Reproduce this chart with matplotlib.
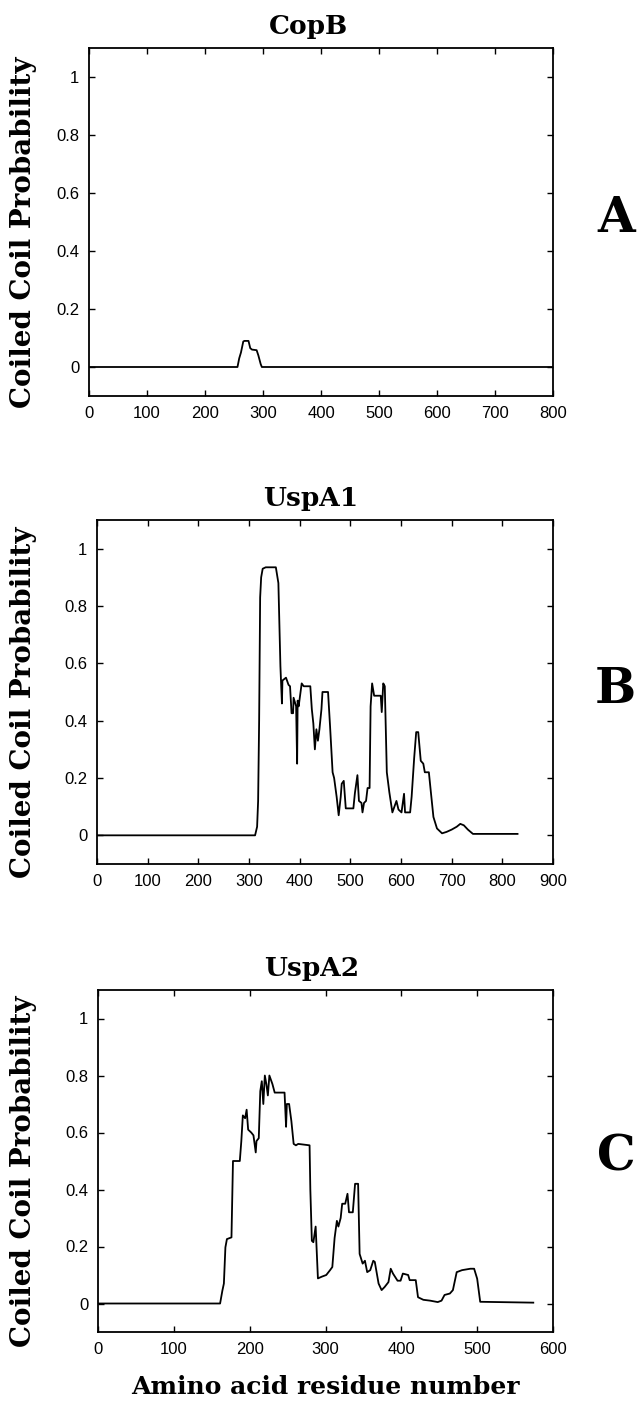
import matplotlib
matplotlib.use("Agg")
import matplotlib.pyplot as plt

# Coiled coil probability profiles
copb_res = [0, 256, 259, 262, 266, 268, 275, 278, 281, 289, 292, 296, 298, 800]
copb_prob = [0, 0, 0.03, 0.05, 0.088, 0.09, 0.09, 0.065, 0.06, 0.058, 0.04, 0.01, 0, 0]

uspa1_res = [0, 312, 316, 318, 320, 322, 324, 327, 333, 353, 358, 362, 365, 366, 373, 378,
             381, 384, 387, 388, 393, 395, 396, 398, 404, 408, 421, 424, 427, 430, 433, 436,
             439, 443, 445, 456, 460, 465, 468, 473, 477, 481, 483, 487, 491, 506, 509, 514,
             517, 522, 524, 527, 531, 534, 538, 540, 543, 547, 560, 562, 565, 568, 572, 577,
             583, 591, 595, 601, 606, 608, 618, 621, 626, 630, 634, 639, 644, 647, 655, 659,
             664, 671, 681, 690, 700, 710, 717, 724, 732, 742, 830]
uspa1_prob = [0, 0, 0.03, 0.12, 0.40, 0.83, 0.90, 0.93, 0.935, 0.935, 0.88, 0.59, 0.46, 0.54, 0.55, 0.525,
              0.52, 0.426, 0.426, 0.48, 0.45, 0.25, 0.47, 0.45, 0.53, 0.52, 0.52, 0.44, 0.39, 0.30, 0.37, 0.33,
              0.37, 0.44, 0.50, 0.50, 0.38, 0.22, 0.20, 0.134, 0.07, 0.134, 0.18, 0.19, 0.094, 0.094, 0.147, 0.21,
              0.12, 0.113, 0.08, 0.113, 0.12, 0.165, 0.165, 0.45, 0.53, 0.487, 0.487, 0.43, 0.53, 0.52, 0.22, 0.15,
              0.08, 0.12, 0.09, 0.08, 0.145, 0.08, 0.08, 0.135, 0.27, 0.36, 0.36, 0.26, 0.25, 0.22, 0.22, 0.15,
              0.064, 0.024, 0.007, 0.012, 0.02, 0.03, 0.04, 0.035, 0.02, 0.005, 0.005]

uspa2_res = [0, 161, 164, 166, 168, 170, 176, 178, 181, 187, 189, 191, 194, 196, 198, 202,
             205, 208, 209, 212, 214, 216, 218, 220, 222, 224, 226, 230, 233, 246, 248, 249,
             252, 255, 258, 261, 264, 279, 280, 282, 284, 287, 290, 295, 301, 306, 309, 312,
             315, 317, 320, 322, 326, 329, 331, 336, 339, 343, 345, 349, 352, 355, 359, 363,
             365, 370, 374, 378, 383, 386, 389, 395, 399, 402, 409, 411, 419, 422, 429, 438,
             448, 453, 457, 464, 468, 473, 480, 491, 496, 500, 504, 574]
uspa2_prob = [0, 0, 0.045, 0.07, 0.197, 0.226, 0.232, 0.50, 0.50, 0.50, 0.57, 0.66, 0.65, 0.68, 0.61, 0.60,
              0.59, 0.53, 0.57, 0.58, 0.745, 0.78, 0.70, 0.80, 0.77, 0.73, 0.80, 0.77, 0.74, 0.74, 0.62, 0.70,
              0.70, 0.64, 0.56, 0.555, 0.56, 0.555, 0.40, 0.22, 0.215, 0.27, 0.088, 0.094, 0.10, 0.117, 0.128, 0.23,
              0.29, 0.27, 0.30, 0.35, 0.35, 0.385, 0.32, 0.32, 0.42, 0.42, 0.174, 0.14, 0.15, 0.11, 0.117, 0.15,
              0.146, 0.07, 0.047, 0.058, 0.075, 0.122, 0.105, 0.08, 0.08, 0.105, 0.10, 0.082, 0.082, 0.022, 0.013, 0.01,
              0.005, 0.01, 0.03, 0.035, 0.047, 0.11, 0.117, 0.122, 0.122, 0.087, 0.006, 0.003]

panel_names = ["CopB", "UspA1", "UspA2"]
panel_letters = ["A", "B", "C"]
x_max = [800, 900, 600]
y_ticks = [0, 0.2, 0.4, 0.6, 0.8, 1]
y_tick_labels = ["0", "0.2", "0.4", "0.6", "0.8", "1"]

series = [(copb_res, copb_prob), (uspa1_res, uspa1_prob), (uspa2_res, uspa2_prob)]

# pixel layout of the original figure (639 x 1401)
W, H = 639, 1401
boxes = [(89, 48, 553, 396), (97, 520, 553, 864), (98, 990, 553, 1332)]
title_x = [0.472, 0.469, 0.47]
letter_pos = [(616, 219), (615, 690), (616, 1157)]

serif = ["DejaVu Serif"]
sans = ["Liberation Sans", "DejaVu Sans"]

fig = plt.figure(figsize=(W / 100, H / 100), dpi=100)

for i in range(3):
    l, t, r, b = boxes[i]
    ax = fig.add_axes([l / W, 1 - b / H, (r - l) / W, (b - t) / H])
    x, y = series[i]
    ax.plot(x, y, color="black", linewidth=1.3)

    ax.set_xlim(0, x_max[i])
    ax.set_ylim(-0.1, 1.1)
    ax.set_xticks(range(0, x_max[i] + 1, 100))
    ax.set_yticks(y_ticks)
    ax.set_yticklabels(y_tick_labels)
    ax.tick_params(direction="in", length=4, width=1, top=True, right=True,
                   labelsize=12, pad=7)
    for lab in ax.get_xticklabels() + ax.get_yticklabels():
        lab.set_family(sans)
    for sp in ax.spines.values():
        sp.set_linewidth(1.3)

    ax.set_title(panel_names[i], x=title_x[i], pad=10, fontsize=19,
                 fontweight="bold", family=serif)
    ax.set_ylabel("Coiled Coil Probability", fontsize=20, fontweight="bold", family=serif)
    ax.yaxis.set_label_coords((37 - l) / (r - l), 0.47)

    # panel letter on the right
    lx, ly = letter_pos[i]
    fig.text(lx / W, 1 - ly / H, panel_letters[i], fontsize=35, fontweight="bold",
             family=serif, ha="center", va="center")

    if i == 2:
        ax.set_xlabel("Amino acid residue number", fontsize=18, fontweight="bold", family=serif)
        ax.xaxis.set_label_coords(0.5, -0.125)

fig.savefig("out.png", dpi=100)
